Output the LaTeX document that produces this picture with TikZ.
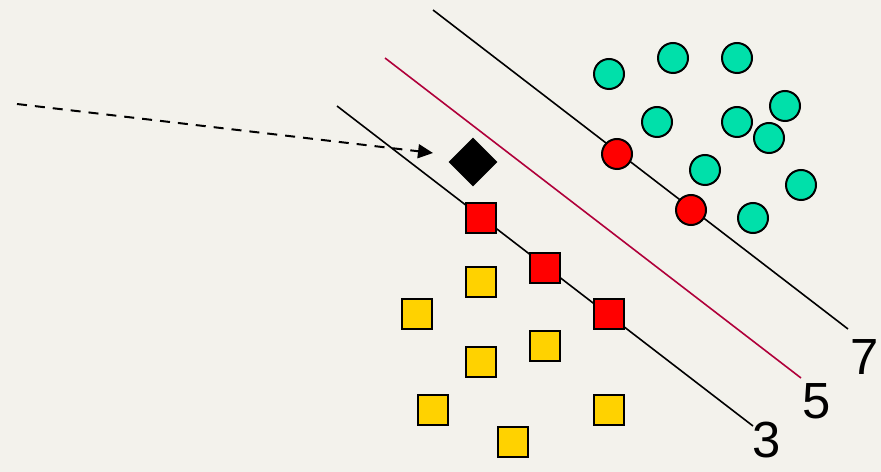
\documentclass[tikz,border=0pt]{standalone}
\usepackage{fontspec}
\setmainfont{Liberation Sans}
\usetikzlibrary{arrows.meta,shapes.geometric}
\definecolor{bg}{RGB}{243,242,236}
\definecolor{teal}{RGB}{0,224,170}
\definecolor{gold}{RGB}{255,210,0}
\definecolor{redfill}{RGB}{255,0,0}
\definecolor{crimson}{RGB}{176,0,58}
\begin{document}
\begin{tikzpicture}[x=1bp,y=-1bp,
  sq/.style={draw=black,line width=2bp,rectangle,minimum size=30bp,inner sep=0pt},
  ysq/.style={sq,fill=gold},
  rsq/.style={sq,fill=redfill},
  circ/.style={draw=black,line width=2bp,circle,minimum size=30bp,inner sep=0pt},
  tc/.style={circ,fill=teal},
  rc/.style={circ,fill=redfill},
  bline/.style={draw=black,line width=1.6bp},
  lbl/.style={font=\fontsize{51}{51}\selectfont,inner sep=0pt}]
\fill[bg] (0,0) rectangle (881,472);
\useasboundingbox (0,0) rectangle (881,472);
% separating lines
\coordinate (l3a) at (337,106); \coordinate (l3b) at (753,426);
\coordinate (l5a) at (385,58);  \coordinate (l5b) at (801,378);
\coordinate (l7a) at (433,10);  \coordinate (l7b) at (848,329);
\draw[bline] (l3a) -- (l3b);
\draw[draw=crimson,line width=1.6bp] (l5a) -- (l5b);
\draw[bline] (l7a) -- (l7b);
\node[lbl] (t3) at (767,440) {3};
\node[lbl] (t5) at (817,401) {5};
\node[lbl] (t7) at (865,357) {7};
% yellow squares
\node[ysq] (y1) at (481,282) {};
\node[ysq] (y2) at (417,314) {};
\node[ysq] (y3) at (545,346) {};
\node[ysq] (y4) at (481,362) {};
\node[ysq] (y5) at (433,410) {};
\node[ysq] (y6) at (609,410) {};
\node[ysq] (y7) at (513,442) {};
% red squares
\node[rsq] (r1) at (481,218) {};
\node[rsq] (r2) at (545,268) {};
\node[rsq] (r3) at (609,314) {};
% teal circles
\node[tc] (c1) at (609,74) {};
\node[tc] (c2) at (673,58) {};
\node[tc] (c3) at (737,58) {};
\node[tc] (c4) at (657,122) {};
\node[tc] (c5) at (737,122) {};
\node[tc] (c6) at (785,106) {};
\node[tc] (c7) at (769,138) {};
\node[tc] (c8) at (705,170) {};
\node[tc] (c9) at (801,185) {};
\node[tc] (c10) at (753,218) {};
% red circles
\node[rc] (rc1) at (617,154) {};
\node[rc] (rc2) at (691,210) {};
% diamond
\node[diamond,fill=black,minimum width=49bp,minimum height=49bp,inner sep=0pt] (d) at (473,162) {};
% dashed arrow
\coordinate (as) at (17,104);
\coordinate (ae) at (433,153);
\draw[line width=2bp,dash pattern=on 10bp off 8bp,-{Triangle[length=15bp,width=14bp]}] (as) -- (ae);
\end{tikzpicture}
\end{document}
